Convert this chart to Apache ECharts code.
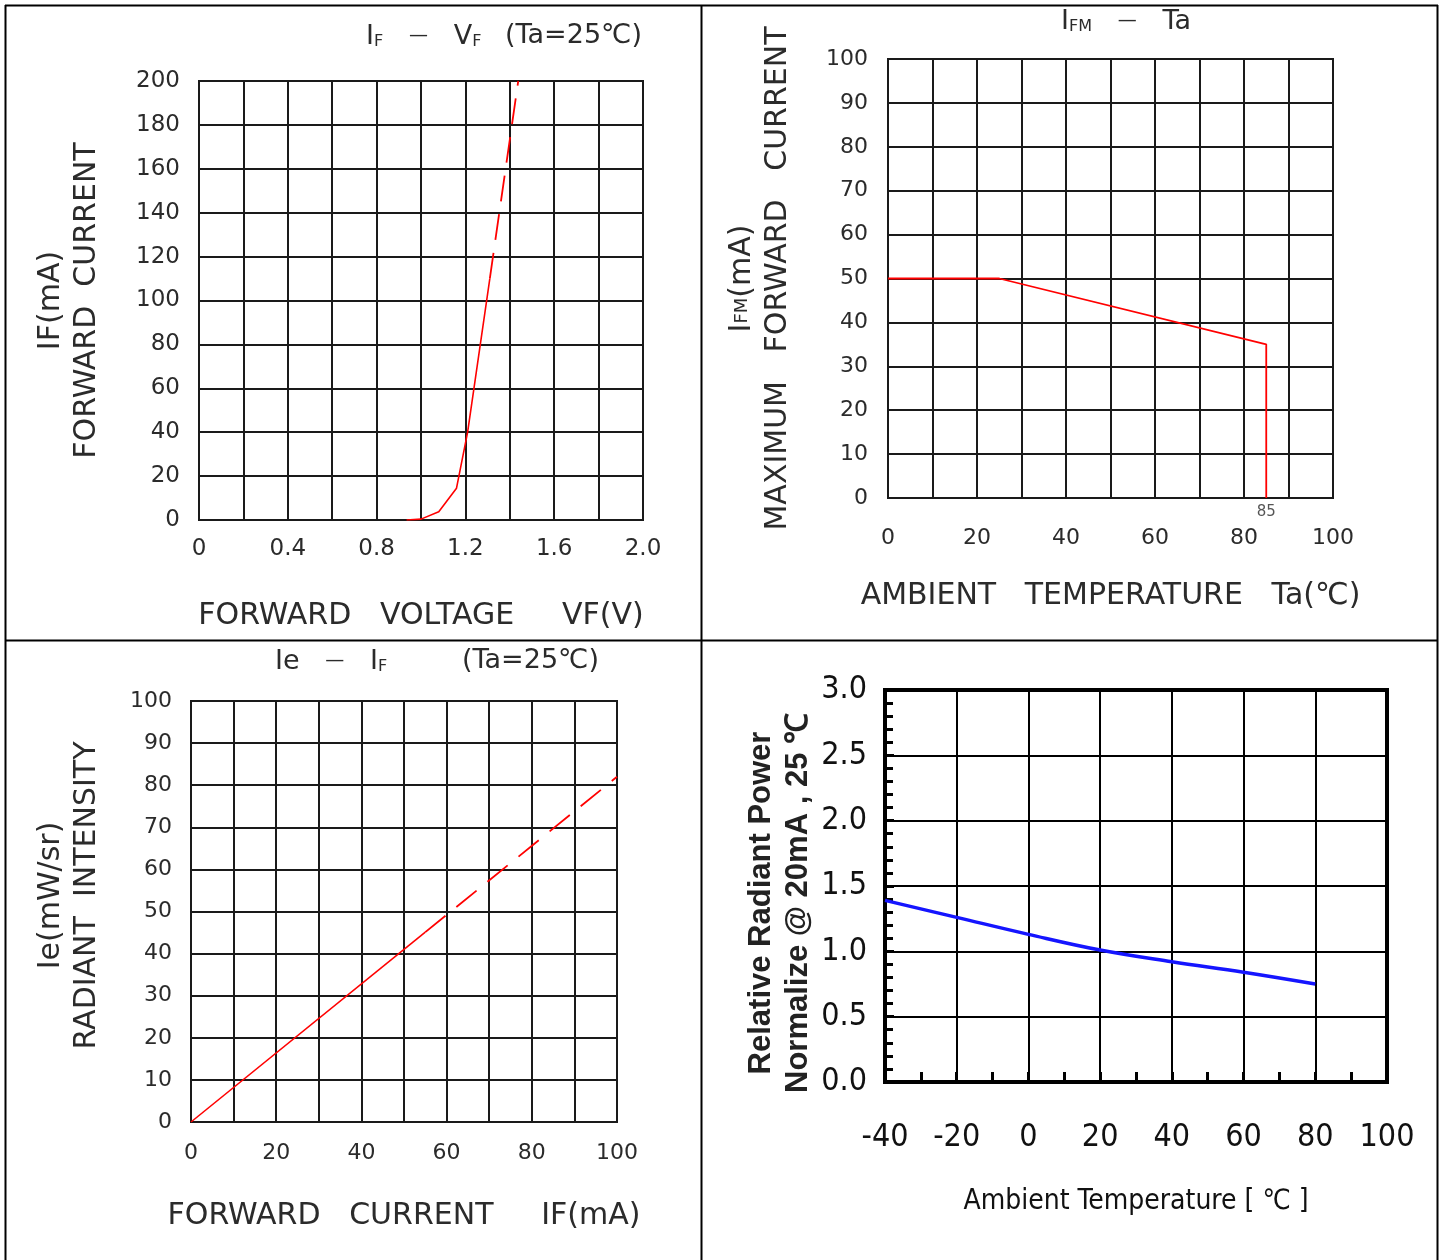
<!DOCTYPE html>
<html>
<head>
<meta charset="utf-8">
<script src="https://cdn.jsdelivr.net/npm/echarts@6/dist/echarts.min.js"></script>
<style>
  html, body { margin: 0; padding: 0; background: #fff; }
  #chart { width: 1443px; height: 1260px; }
</style>
</head>
<body>
<div id="chart"></div>
<script>
// ---- data ----
// IF - VF (Ta=25C): solid part then dashed extrapolation
const vfSolid = [[0.935, 0], [1.0, 0.4], [1.08, 3.8], [1.16, 14.5], [1.21, 40], [1.31, 110]];
const vfDashed = [[1.31, 110], [1.438, 200]];
const vfTickLabels = ['0', '0.4', '0.8', '1.2', '1.6', '2.0'];

// IFM - Ta derating
const ifmDerating = [[0, 50], [25, 50], [85, 35], [85, 0]];
const ifmMarker = [[85, 0]];
const taTickLabels = ['0', '20', '40', '60', '80', '100'];

// Ie - IF (Ta=25C)
const ieSolid = [[0, 0], [55, 45.1]];
const ieDashed = [[55, 45.1], [100, 82]];
const ifTickLabels = ['0', '20', '40', '60', '80', '100'];

// relative radiant power vs ambient temperature
const powerTemp = [[-40, 1.39], [-20, 1.26], [0, 1.13], [20, 1.01], [40, 0.92], [60, 0.84], [80, 0.75]];
const powerTickLabels = ['0.0', '0.5', '1.0', '1.5', '2.0', '2.5', '3.0'];

const cad = 'DejaVu Sans';
const narrow = "'Liberation Sans Narrow', 'DejaVu Sans Condensed', 'Liberation Sans', sans-serif";
const ink = '#1a1a1a';
const txt = '#2b2b2b';

const chart = echarts.init(document.getElementById('chart'));

// axis styling for the three cad drawn plots
const cadAxis = (extra) => Object.assign({
  type: 'value',
  axisLine: { lineStyle: { color: ink, width: 2 } },
  axisTick: { show: false },
  splitLine: { lineStyle: { color: ink, width: 2 } },
  axisLabel: { fontFamily: cad, fontSize: 23, color: txt },
  nameLocation: 'middle',
  nameTextStyle: { fontFamily: cad, fontSize: 30, color: txt, lineHeight: 36 }
}, extra);

const subRich = {
  s: { fontFamily: cad, fontSize: 16, color: txt, verticalAlign: 'bottom' },
  d: { fontFamily: cad, fontSize: 19, color: txt },
  n: { fontFamily: cad, fontSize: 30, color: txt, lineHeight: 36 },
  ns: { fontFamily: cad, fontSize: 18, color: txt, lineHeight: 36 }
};

const titleStyle = { fontFamily: cad, fontSize: 27, fontWeight: 'normal', color: txt, rich: subRich };

const option = {
  animation: false,
  backgroundColor: '#fff',
  title: [
    { text: 'I{s|F}   {d|—}   V{s|F}', left: 366, top: 23, padding: 0, textStyle: titleStyle },
    { text: '(Ta=25℃)', left: 505, top: 22, padding: 0, textStyle: titleStyle },
    { text: 'I{s|FM}   {d|—}   Ta', left: 1061, top: 8, padding: 0, textStyle: titleStyle },
    { text: 'Ie   {d|—}   I{s|F}', left: 275, top: 648, padding: 0, textStyle: titleStyle },
    { text: '(Ta=25℃)', left: 462, top: 647, padding: 0, textStyle: titleStyle }
  ],
  grid: [
    { left: 199, top: 81, width: 444, height: 439, show: true, borderColor: ink, borderWidth: 2 },
    { left: 888, top: 59, width: 445, height: 439, show: true, borderColor: ink, borderWidth: 2 },
    { left: 191, top: 701, width: 426, height: 421, show: true, borderColor: ink, borderWidth: 2 },
    { left: 885, top: 690, width: 502, height: 392, show: true, borderColor: '#000', borderWidth: 4 }
  ],
  xAxis: [
    cadAxis({
      gridIndex: 0, min: 0, max: 2, interval: 0.2,
      name: 'FORWARD   VOLTAGE     VF(V)', nameGap: 78,
      axisLabel: { fontFamily: cad, fontSize: 23, color: txt, margin: 18,
        formatter: (v, i) => (i % 2 ? '' : vfTickLabels[i / 2]) }
    }),
    cadAxis({
      gridIndex: 1, min: 0, max: 100, interval: 10,
      name: 'AMBIENT   TEMPERATURE   Ta(℃)', nameGap: 80,
      axisLabel: { fontFamily: cad, fontSize: 22, color: txt, margin: 29,
        formatter: (v, i) => (i % 2 ? '' : taTickLabels[i / 2]) }
    }),
    cadAxis({
      gridIndex: 2, min: 0, max: 100, interval: 10,
      name: 'FORWARD   CURRENT     IF(mA)', nameGap: 76,
      axisLabel: { fontFamily: cad, fontSize: 22, color: txt, margin: 20,
        formatter: (v, i) => (i % 2 ? '' : ifTickLabels[i / 2]) }
    }),
    {
      type: 'value', gridIndex: 3, min: -40, max: 100, interval: 20,
      axisLine: { onZero: false, lineStyle: { color: '#000', width: 4 } },
      axisTick: { show: true, inside: true, length: 10, lineStyle: { color: '#000', width: 3 } },
      minorTick: { show: true, splitNumber: 2, length: 10, lineStyle: { color: '#000', width: 3 } },
      splitLine: { lineStyle: { color: '#000', width: 2 } },
      axisLabel: { fontFamily: narrow, fontSize: 32, color: '#111', margin: 40 },
      name: 'Ambient Temperature [ ℃ ]', nameLocation: 'middle', nameGap: 106,
      nameTextStyle: { fontFamily: narrow, fontSize: 28, color: '#111' }
    }
  ],
  yAxis: [
    cadAxis({
      gridIndex: 0, min: 0, max: 200, interval: 20,
      axisLabel: { fontFamily: cad, fontSize: 23, color: txt, margin: 19 },
      name: 'IF(mA)\nFORWARD  CURRENT', nameGap: 94, nameRotate: 90
    }),
    cadAxis({
      gridIndex: 1, min: 0, max: 100, interval: 10,
      axisLabel: { fontFamily: cad, fontSize: 22, color: txt, margin: 20 },
      name: '{n|I}{ns|FM}{n|(mA)}\n{n|MAXIMUM   FORWARD   CURRENT}', nameGap: 92, nameRotate: 90,
      nameTextStyle: { fontFamily: cad, fontSize: 30, color: txt, lineHeight: 36, rich: subRich }
    }),
    cadAxis({
      gridIndex: 2, min: 0, max: 100, interval: 10,
      axisLabel: { fontFamily: cad, fontSize: 22, color: txt, margin: 19 },
      name: 'Ie(mW/sr)\nRADIANT  INTENSITY', nameGap: 86, nameRotate: 90,
      nameTextStyle: { fontFamily: cad, fontSize: 30, color: txt, lineHeight: 36, padding: [0, 0, 0, 32] }
    }),
    {
      type: 'value', gridIndex: 3, min: 0, max: 3, interval: 0.5,
      axisLine: { onZero: false, lineStyle: { color: '#000', width: 4 } },
      axisTick: { show: true, inside: true, length: 9, lineStyle: { color: '#000', width: 3 } },
      minorTick: { show: true, splitNumber: 5, length: 8, lineStyle: { color: '#000', width: 3 } },
      splitLine: { lineStyle: { color: '#000', width: 2 } },
      axisLabel: { fontFamily: narrow, fontSize: 32, color: '#111', margin: 18,
        formatter: (v, i) => powerTickLabels[i] },
      name: 'Relative Radiant Power\nNormalize @ 20mA , 25 ℃', nameLocation: 'middle',
      nameGap: 64, nameRotate: 90,
      nameTextStyle: { fontFamily: 'Liberation Sans', fontSize: 31, fontWeight: 'bold', color: '#222',
        lineHeight: 37, padding: [0, 34, 0, 0] }
    }
  ],
  series: [
    { type: 'line', xAxisIndex: 0, yAxisIndex: 0, data: vfSolid, symbol: 'none',
      lineStyle: { color: '#ff0000', width: 1.6 } },
    { type: 'line', xAxisIndex: 0, yAxisIndex: 0, data: vfDashed, symbol: 'none',
      lineStyle: { color: '#ff0000', width: 1.8, type: [26, 13] } },
    { type: 'line', xAxisIndex: 1, yAxisIndex: 1, data: ifmDerating, symbol: 'none',
      lineStyle: { color: '#ff0000', width: 1.8 } },
    { type: 'scatter', xAxisIndex: 1, yAxisIndex: 1, data: ifmMarker, symbolSize: 0,
      label: { show: true, position: 'bottom', distance: 7, fontFamily: cad, fontSize: 15, color: txt,
        formatter: (p) => String(p.value[0]) } },
    { type: 'line', xAxisIndex: 2, yAxisIndex: 2, data: ieSolid, symbol: 'none',
      lineStyle: { color: '#ff0000', width: 1.6 } },
    { type: 'line', xAxisIndex: 2, yAxisIndex: 2, data: ieDashed, symbol: 'none',
      lineStyle: { color: '#ff0000', width: 1.8, type: [26, 14] } },
    { type: 'line', xAxisIndex: 3, yAxisIndex: 3, data: powerTemp, symbol: 'none', smooth: 0.4,
      lineStyle: { color: '#1515ff', width: 3.5 } }
  ],
  // table cell borders
  graphic: [
    { type: 'line', shape: { x1: 5, y1: 5.5, x2: 1438, y2: 5.5 }, style: { stroke: '#000', lineWidth: 2 } },
    { type: 'line', shape: { x1: 5, y1: 640.5, x2: 1438, y2: 640.5 }, style: { stroke: '#000', lineWidth: 2 } },
    { type: 'line', shape: { x1: 5.5, y1: 5, x2: 5.5, y2: 1260 }, style: { stroke: '#000', lineWidth: 2 } },
    { type: 'line', shape: { x1: 701.5, y1: 5, x2: 701.5, y2: 1260 }, style: { stroke: '#000', lineWidth: 2 } },
    { type: 'line', shape: { x1: 1437.5, y1: 5, x2: 1437.5, y2: 1260 }, style: { stroke: '#000', lineWidth: 2 } }
  ]
};

chart.setOption(option);
</script>
</body>
</html>
